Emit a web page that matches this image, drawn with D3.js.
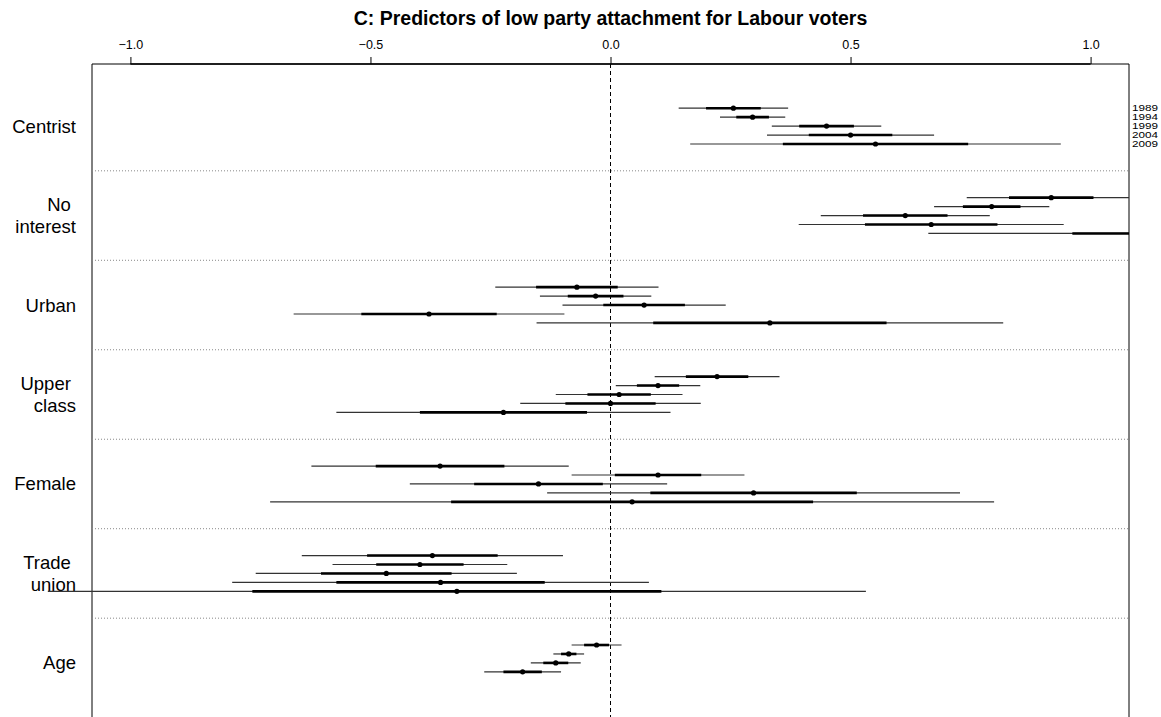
<!DOCTYPE html>
<html>
<head>
<meta charset="utf-8">
<script src="https://cdn.jsdelivr.net/npm/d3@7"></script>
<style>
  html, body { margin: 0; padding: 0; background: #fff; }
  svg { display: block; font-family: "Liberation Sans", Arial, Helvetica, sans-serif; }
</style>
</head>
<body>
<svg id="chart" width="1161" height="717"></svg>
<script>
// Coefficient plot: estimates with ±1 SE (thick) and ±2 SE (thin) intervals per election year
const title = "C: Predictors of low party attachment for Labour voters";
const groups = ["Centrist", "No interest", "Urban", "Upper class", "Female", "Trade union", "Age"];
const groupLabelLines = [["Centrist"], ["No ", "interest"], ["Urban"], ["Upper ", "class"], ["Female"], ["Trade ", "union"], ["Age"]];
const years = ["1989", "1994", "1999", "2004", "2009"];

const estCentrist   = [0.256, 0.296, 0.450, 0.500, 0.552];
const seCentrist    = [0.057, 0.034, 0.057, 0.087, 0.193];
const estNoInterest = [0.918, 0.794, 0.614, 0.668, 1.262];
const seNoInterest  = [0.088, 0.060, 0.088, 0.138, 0.300];
const estUrban      = [-0.070, -0.031, 0.070, -0.378, 0.332];
const seUrban       = [0.085, 0.058, 0.085, 0.141, 0.243];
const estUpperClass = [0.222, 0.099, 0.018, 0.000, -0.223];
const seUpperClass  = [0.065, 0.044, 0.066, 0.094, 0.174];
const estFemale     = [-0.355, 0.099, -0.150, 0.298, 0.045];
const seFemale      = [0.134, 0.090, 0.134, 0.215, 0.377];
const estTradeUnion = [-0.371, -0.397, -0.467, -0.354, -0.320];
const seTradeUnion  = [0.136, 0.091, 0.136, 0.217, 0.426];
const estAge        = [-0.029, -0.087, -0.114, -0.183, null];
const seAge         = [0.026, 0.016, 0.026, 0.040, null];

const tickValues = [-1.0, -0.5, 0.0, 0.5, 1.0];
const tickLabels = ["\u22121.0", "\u22120.5", "0.0", "0.5", "1.0"];

const estimates = [estCentrist, estNoInterest, estUrban, estUpperClass, estFemale, estTradeUnion, estAge];
const ses = [seCentrist, seNoInterest, seUrban, seUpperClass, seFemale, seTradeUnion, seAge];

// flatten into rows
const rows = [];
groups.forEach((g, gi) => {
  years.forEach((yr, yi) => {
    const est = estimates[gi][yi];
    if (est === null || est === undefined) return;
    rows.push({ group: g, gi, year: yr, yi, est, se: ses[gi][yi] });
  });
});

const svg = d3.select("#chart");
const W = 1161, H = 717;
const plot = { left: 92, right: 1129, top: 64, bottom: 725 };

const x = d3.scaleLinear().domain([-1.08, 1.08]).range([plot.left, plot.right]);
// group index on the vertical; rows are offset by a tenth of a group
const y = d3.scaleLinear().domain([-0.694, 6.694]).range([plot.top, plot.bottom]);
const rowOffset = 0.1;
const rowY = d => y(d.gi + (d.yi - 2) * rowOffset);

// clip marks at the right border of the plot box
svg.append("defs").append("clipPath").attr("id", "clipRight")
  .append("rect").attr("x", 0).attr("y", 0).attr("width", plot.right).attr("height", H);

// title
svg.append("text")
  .attr("x", x(0)).attr("y", 25)
  .attr("text-anchor", "middle")
  .attr("font-size", 19.5).attr("font-weight", "bold")
  .text(title);

// top axis
const axis = d3.axisTop(x)
  .tickValues(tickValues)
  .tickFormat((d, i) => tickLabels[i])
  .tickSize(7)
  .tickPadding(8);
const axisG = svg.append("g").attr("transform", `translate(0,${plot.top})`).call(axis);
axisG.select(".domain").attr("stroke", "#000").attr("stroke-width", 1.3)
  .attr("d", `M${x(tickValues[0])},0H${x(tickValues[tickValues.length - 1])}`);
axisG.selectAll(".tick line").attr("stroke", "#000");
axisG.selectAll(".tick text").attr("font-size", 12.5).attr("fill", "#000")
  .attr("font-family", "'Liberation Sans', Arial, sans-serif");

// plot box (top, left, right)
svg.append("path")
  .attr("d", `M${plot.left},${H}V${plot.top}H${plot.right}V${H}`)
  .attr("fill", "none").attr("stroke", "#000").attr("stroke-width", 1);

// dotted separators between groups
svg.append("g").selectAll("line")
  .data(d3.range(groups.length - 1))
  .join("line")
  .attr("x1", plot.left).attr("x2", plot.right)
  .attr("y1", d => y(d + 0.5)).attr("y2", d => y(d + 0.5))
  .attr("stroke", "#888").attr("stroke-width", 1).attr("stroke-dasharray", "1,2");

// zero reference line
svg.append("line")
  .attr("x1", x(0)).attr("x2", x(0))
  .attr("y1", plot.top).attr("y2", H)
  .attr("stroke", "#000").attr("stroke-width", 1).attr("stroke-dasharray", "4,3");

// group labels
const lab = svg.append("g").attr("font-size", 18.5).attr("fill", "#000");
groupLabelLines.forEach((lines, gi) => {
  const n = lines.length;
  lines.forEach((line, li) => {
    lab.append("text")
      .attr("x", 76)
      .attr("y", y(gi) + (li - (n - 1) / 2) * 22.5)
      .attr("dy", "0.35em")
      .attr("text-anchor", "end")
      .style("white-space", "pre")
      .text(line);
  });
});

// intervals and points
const marks = svg.append("g").attr("clip-path", "url(#clipRight)");
marks.selectAll("line.thin")
  .data(rows).join("line").attr("class", "thin")
  .attr("x1", d => x(d.est - 2 * d.se)).attr("x2", d => x(d.est + 2 * d.se))
  .attr("y1", rowY).attr("y2", rowY)
  .attr("stroke", "#333").attr("stroke-width", 1.2);
marks.selectAll("line.thick")
  .data(rows).join("line").attr("class", "thick")
  .attr("x1", d => x(d.est - d.se)).attr("x2", d => x(d.est + d.se))
  .attr("y1", rowY).attr("y2", rowY)
  .attr("stroke", "#000").attr("stroke-width", 2.6);
marks.selectAll("circle")
  .data(rows.filter(d => x(d.est) <= plot.right)).join("circle")
  .attr("cx", d => x(d.est)).attr("cy", rowY).attr("r", 2.6)
  .attr("fill", "#000");

// year key beside the first group, packed tightly like the rows
svg.append("g").attr("font-size", 8.6).attr("fill", "#000")
  .selectAll("text")
  .data(years).join("text")
  .attr("x", plot.right + 3)
  .attr("y", (d, i) => y(0 + (i - 2) * rowOffset))
  .attr("dy", "0.36em")
  .attr("textLength", 26)
  .attr("lengthAdjust", "spacingAndGlyphs")
  .text(d => d);
</script>
</body>
</html>
